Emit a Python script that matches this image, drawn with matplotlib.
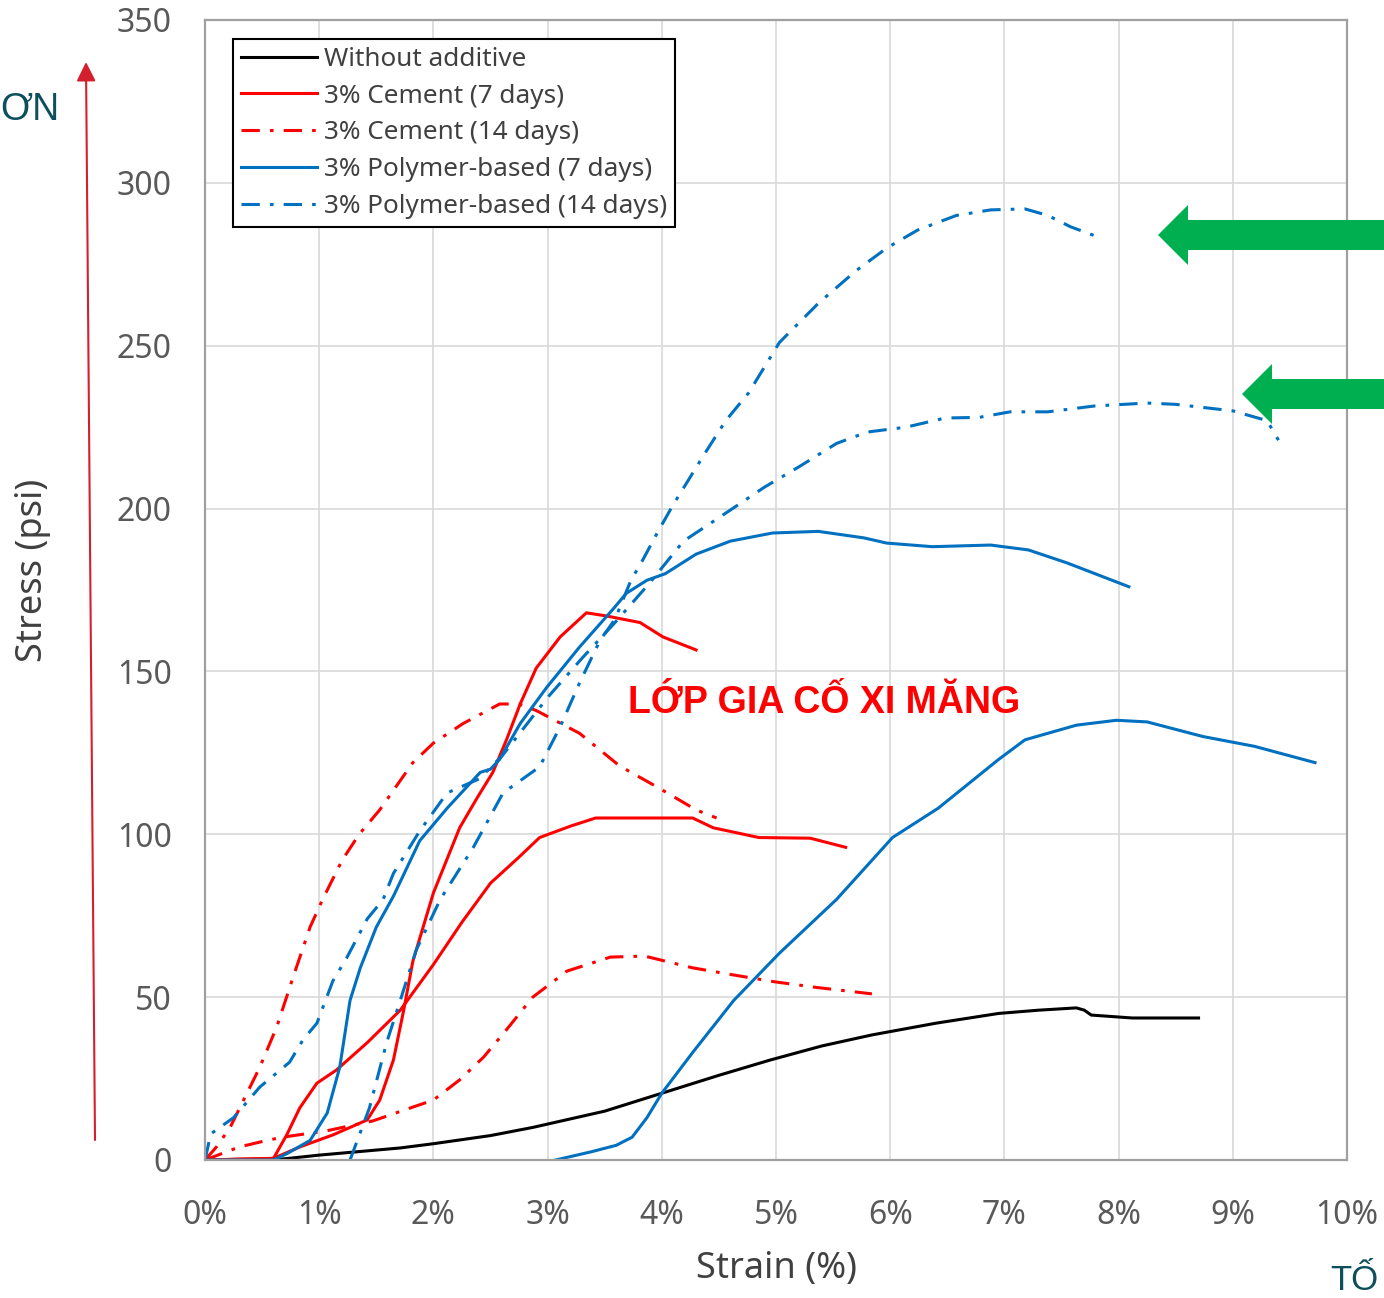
import matplotlib
matplotlib.use("Agg")
import matplotlib.pyplot as plt
from matplotlib.patches import Polygon

# ---- data (strain in %, stress in psi) ----
plain_x = [0.6, 1.0, 1.71, 2.0, 2.5, 2.87, 3.5, 4.0, 4.5, 4.95, 5.4, 5.84, 6.4, 6.95, 7.3, 7.63, 7.7, 7.76, 8.12, 8.7]
plain_y = [0, 1.5, 3.7, 5, 7.5, 10, 15, 20.5, 26, 30.7, 35, 38.4, 42, 45, 46, 46.7, 46, 44.5, 43.6, 43.6]

cem7a_x = [0, 0.6, 0.72, 0.83, 0.98, 1.15, 1.42, 1.71, 2.0, 2.25, 2.5, 2.75, 2.93, 3.2, 3.42, 3.8, 4.27, 4.45, 4.85, 5.3, 5.61]
cem7a_y = [0, 0.5, 8, 16, 23.6, 27.6, 36, 46, 60, 73, 85, 93, 99, 102.5, 105, 105, 105, 102, 99, 98.8, 96]

cem7b_x = [0, 0.6, 0.83, 1.12, 1.42, 1.53, 1.65, 1.74, 1.82, 2.0, 2.23, 2.38, 2.52, 2.64, 2.76, 2.9, 3.11, 3.34, 3.52, 3.81, 4.01, 4.3]
cem7b_y = [0, 0.5, 4, 7.7, 12.3, 18.4, 30.7, 46, 61, 82, 102, 111, 119, 129, 140, 151, 160.6, 168, 167, 165, 160.6, 156.6]

cem14a_x = [0, 0.1, 0.22, 0.48, 0.63, 0.77, 0.92, 1.03, 1.2, 1.35, 1.53, 1.82, 2.0, 2.26, 2.58, 2.75, 2.9, 3.28, 3.63, 3.96, 4.3, 4.48]
cem14a_y = [0, 4, 10, 28.5, 41, 56, 71.5, 80, 92, 100, 107.5, 122, 128, 134, 140, 140, 138, 131, 121, 114.5, 107.5, 105]

cem14b_x = [0, 0.3, 0.54, 0.68, 1.07, 1.47, 1.8, 2.0, 2.23, 2.44, 2.64, 2.87, 3.17, 3.55, 3.85, 4.27, 4.63, 4.99, 5.35, 5.84]
cem14b_y = [0, 4, 6, 7, 9, 12, 16, 18.4, 24.6, 31.6, 40, 50, 58, 62.3, 62.6, 59, 56.8, 54.7, 53, 51]

pol7a_x = [0, 0.6, 0.72, 0.92, 1.07, 1.18, 1.27, 1.36, 1.5, 1.65, 1.88, 2.12, 2.41, 2.5, 2.58, 2.76, 2.99, 3.28, 3.57, 3.69, 3.87, 4.03, 4.3, 4.6,
           4.97, 5.37, 5.77, 5.97, 6.37, 6.88, 7.21, 7.55, 7.89, 8.09]
pol7a_y = [0, 0, 2, 6, 14.4, 28.5, 49, 59, 71.5, 81, 98, 108, 119, 120, 123, 134, 145, 157.5, 169, 174, 178, 180, 186, 190,
           192.5, 193, 191, 189.4, 188.3, 188.8, 187.3, 183.3, 178.7, 176]

pol7b_x = [3.07, 3.38, 3.6, 3.74, 3.87, 4.0, 4.27, 4.63, 5.03, 5.53, 6.02, 6.42, 6.95, 7.18, 7.63, 7.98, 8.25, 8.74, 9.19, 9.72]
pol7b_y = [0, 2.5, 4.5, 7, 13, 20.5, 33, 49, 63.5, 80, 99, 108, 123, 129, 133.5, 135, 134.5, 130, 127, 122]

pol14a_x = [0, 0.05, 0.13, 0.25, 0.48, 0.74, 0.86, 0.98, 1.12, 1.24, 1.42, 1.56, 1.65, 1.88, 2.12, 2.4, 2.6, 2.8, 3.0, 3.3, 3.59,
            3.89, 4.19, 4.56, 4.9, 5.2, 5.53, 5.8, 6.14, 6.48, 6.78, 7.05, 7.38, 7.79, 8.25, 8.5, 9.0, 9.3, 9.4]
pol14a_y = [0, 8, 10, 13, 22.4, 30, 37, 42, 55, 62, 74, 80, 88, 101, 112.7, 117, 124, 133, 142, 154, 165,
            177, 190, 198.6, 206.6, 212.8, 220, 223.5, 225, 227.8, 228, 229.7, 229.7, 231.5, 232.4, 232, 230, 227, 221]

pol14b_x = [1.27, 1.44, 1.59, 1.71, 1.85, 2.06, 2.35, 2.61, 2.93, 3.11, 3.28, 3.46, 3.59, 3.73, 3.83, 3.96, 4.09, 4.36, 4.56, 4.76,
            5.03, 5.37, 5.7, 5.97, 6.24, 6.58, 6.88, 7.18, 7.38, 7.58, 7.85]
pol14b_y = [0, 16, 36, 49, 64.5, 80, 96, 112.7, 120.7, 133, 146.5, 159.6, 166, 178, 184, 192.5, 200.6, 216, 227, 235.5,
            251, 263, 273, 280, 285.5, 290, 291.7, 292, 290, 286.5, 283]

labels = ["Without additive", "3% Cement (7 days)", "3% Cement (14 days)",
          "3% Polymer-based (7 days)", "3% Polymer-based (14 days)"]
x_ticks = list(range(0, 11))
y_ticks = list(range(0, 351, 50))

W, H = 1384, 1298
RED = "#ff0000"
BLUE = "#0070c0"
DASHDOT = (0, (6, 3.3, 1.2, 3.3))
LW = 2.2

plt.rcParams["font.family"] = ["Noto Sans", "DejaVu Sans"]

fig = plt.figure(figsize=(W / 100, H / 100), dpi=100)
ax = fig.add_axes([205 / W, 1 - 1160 / H, (1347 - 205) / W, (1160 - 20) / H])

ax.plot(plain_x, plain_y, color="black", lw=LW, label=labels[0])
ax.plot(cem7a_x, cem7a_y, color=RED, lw=LW, label=labels[1])
ax.plot(cem7b_x, cem7b_y, color=RED, lw=LW)
ax.plot(cem14a_x, cem14a_y, color=RED, lw=LW, ls=DASHDOT, label=labels[2])
ax.plot(cem14b_x, cem14b_y, color=RED, lw=LW, ls=DASHDOT)
ax.plot(pol7a_x, pol7a_y, color=BLUE, lw=LW, label=labels[3])
ax.plot(pol7b_x, pol7b_y, color=BLUE, lw=LW)
ax.plot(pol14a_x, pol14a_y, color=BLUE, lw=LW, ls=DASHDOT, label=labels[4])
ax.plot(pol14b_x, pol14b_y, color=BLUE, lw=LW, ls=DASHDOT)

ax.set_xlim(0, 10)
ax.set_ylim(0, 350)
ax.set_xticks(x_ticks)
ax.set_xticklabels([f"{t}%" for t in x_ticks])
ax.set_yticks(y_ticks)
ax.grid(True, color="#d9d9d9", lw=1.2)
ax.set_axisbelow(True)
ax.tick_params(length=0, labelsize=23, colors="#595959")
ax.tick_params(axis="y", pad=24)
ax.tick_params(axis="x", pad=28)
for s in ax.spines.values():
    s.set_color("#a0a0a0")
    s.set_linewidth(1.6)

ax.set_xlabel("Strain (%)", fontsize=26, color="#404040", labelpad=14)
ax.set_ylabel("Stress (psi)", fontsize=26, color="#404040")
ax.yaxis.set_label_coords((51 - 205) / 1142, (1160 - 570) / 1140)

leg = ax.legend(loc="upper left", bbox_to_anchor=((233 - 205) / 1142, 1 - (39 - 20) / 1140),
                borderaxespad=0, fontsize=18.8, fancybox=False, framealpha=1,
                edgecolor="black", handlelength=2.9, handletextpad=0.3,
                labelspacing=0.45, borderpad=0.3)
leg.get_frame().set_linewidth(1.5)
for t in leg.get_texts():
    t.set_color("#404040")

ax.text(3.70, 140.3, "LỚP GIA CỐ XI MĂNG", color=RED, fontsize=27, fontweight="bold",
        family=["Liberation Sans Narrow", "Liberation Sans", "DejaVu Sans"], va="center", ha="left")

# red vertical arrow on the left
ax.annotate("", xy=(86, H - 62), xytext=(95, H - 1140), xycoords="figure pixels",
            textcoords="figure pixels", annotation_clip=False,
            arrowprops=dict(arrowstyle="-|>,head_length=0.4,head_width=0.2", mutation_scale=29,
                            color="#d41f2c", lw=1.5, shrinkA=0, shrinkB=0))

# green arrows pointing at the polymer peaks
for tip_x, tip_y in [(1158, 235), (1242, 394)]:
    base = tip_x + 30
    pts = [(tip_x, tip_y), (base, tip_y - 30), (base, tip_y - 15), (W, tip_y - 15),
           (W, tip_y + 15), (base, tip_y + 15), (base, tip_y + 30)]
    fig.patches.append(Polygon([(px / W, 1 - py / H) for px, py in pts], closed=True,
                               facecolor="#00b050", edgecolor="none", transform=fig.transFigure))

# cropped slide text
fig.text(0, 1 - 110 / H, "ƠN", color="#0e4f5e", fontsize=27, va="center", ha="left",
         family=["Liberation Sans", "DejaVu Sans"])
fig.text(1330 / W, 1 - 1280 / H, "TỐ", color="#0e4f5e", fontsize=25, va="center", ha="left",
         family=["Liberation Sans", "DejaVu Sans"])

fig.savefig("out.png", dpi=100)
